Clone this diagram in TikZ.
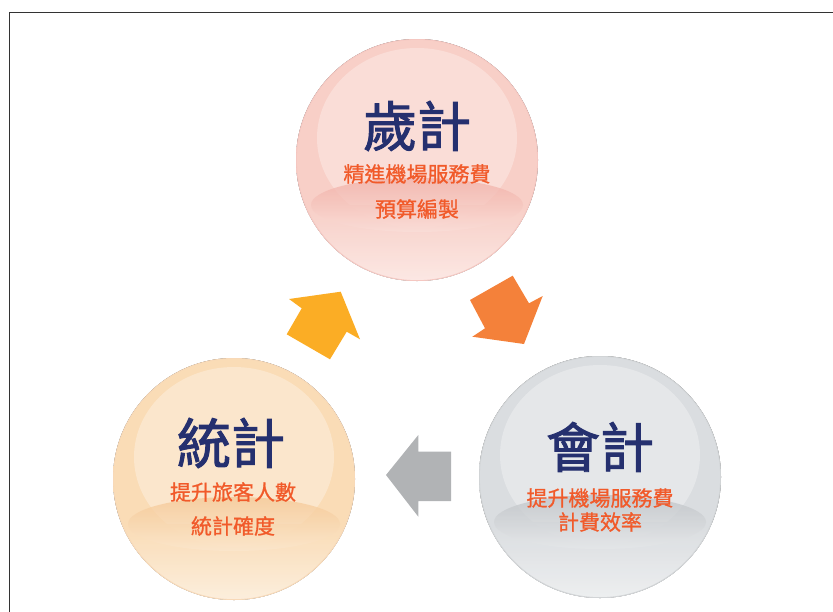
\documentclass[tikz,border=0pt]{standalone}
\usepackage{fontspec}
\newfontfamily\cjk{Noto Sans CJK TC}[FakeBold=0.9]
\newfontfamily\cjkb{Noto Sans CJK TC}[FakeBold=1.8]
\definecolor{navy}{HTML}{25306F}
\definecolor{subred}{HTML}{F15A2A}
\definecolor{pinkL}{HTML}{F8CFC7}
\definecolor{pinkD}{HTML}{EEA298}
\definecolor{pinkW}{HTML}{FDEEEB}
\definecolor{oraL}{HTML}{FADCB6}
\definecolor{oraD}{HTML}{F3C088}
\definecolor{oraW}{HTML}{FDF3E6}
\definecolor{grayL}{HTML}{DADDE0}
\definecolor{grayD}{HTML}{B3B7BB}
\definecolor{grayW}{HTML}{F2F3F4}
\definecolor{arrYellow}{HTML}{FBAD25}
\definecolor{arrOrange}{HTML}{F4813A}
\definecolor{arrGray}{HTML}{B1B3B5}
\colorlet{ballin}{pinkL}
\colorlet{ballout}{pinkD}
\pgfdeclareradialshading[ballin,ballout]{ballshade}{\pgfpoint{0bp}{0bp}}{color(0bp)=(ballin); color(32bp)=(ballin); color(46bp)=(ballin!55!ballout); color(50bp)=(ballout); color(60bp)=(ballout)}
\tikzset{
  titletext/.style={font=\cjkb\fontsize{54}{54}\selectfont, text=navy, inner sep=0pt},
  subtext/.style={font=\cjk\fontsize{21}{21}\selectfont, text=subred, inner sep=0pt},
  frameline/.style={draw=black!80, line width=1.3pt},
}
% #1 name, #2 cx, #3 cy, #4 light, #5 dark, #6 white
\newcommand\glassball[6]{%
  \colorlet{ballin}{#4}\colorlet{ballout}{#5}%
  \coordinate (#1) at (#2,#3);
  \fill[shading=ballshade] (#1) circle (121);
  \begin{scope}
    \clip (#1) circle (121);
    \fill[white, opacity=0.3] ([yshift=22]#1) ellipse (100 and 90);
    \shade[top color=#4, bottom color=#6, opacity=0.85] ([xshift=-130,yshift=-45]#1) rectangle ([xshift=130,yshift=-125]#1);
    \shade[top color=#5!75!#4, bottom color=#4!50!#6, opacity=0.75] ([yshift=-45]#1) ellipse (106 and 27);
  \end{scope}
  \draw[#5!60!white, line width=0.8pt] (#1) circle (120.6);
}
\begin{document}
\begin{tikzpicture}[x=1pt,y=-1pt]
\useasboundingbox (0,0) rectangle (833,611);
\begin{scope}
\clip (0,0) rectangle (833,611);
\draw[frameline] (9.5,12.5) rectangle (860,640);
\end{scope}
% spheres
\glassball{top}{417}{160}{pinkL}{pinkD}{pinkW}
\glassball{left}{234}{479}{oraL}{oraD}{oraW}
\glassball{right}{600}{477}{grayL}{grayD}{grayW}
% texts
\node[titletext] (t1) at (417,126) {歲計};
\node[subtext] (t1a) at (417,174) {精進機場服務費};
\node[subtext] (t1b) at (417,209) {預算編製};
\node[titletext] (t2) at (231,443) {統計};
\node[subtext] (t2a) at (233,492) {提升旅客人數};
\node[subtext] (t2b) at (233,526) {統計確度};
\node[titletext] (t3) at (600,447) {會計};
\node[subtext] (t3a) at (600,498) {提升機場服務費};
\node[subtext] (t3b) at (600,522) {計費效率};
% arrows
\fill[arrOrange] (470,300) -- (512.7,275.7) -- (529,303.3) -- (542.7,296) -- (524,344) -- (472.3,336.7) -- (485,328.3) -- cycle;
\fill[arrGray] (386,475) -- (418.3,435) -- (418.3,451.7) -- (451,451.7) -- (451,501) -- (418.3,501) -- (418.3,516.7) -- cycle;
\fill[arrYellow] (289,299) -- (340.7,291.7) -- (360,339.3) -- (346.7,331.7) -- (330,359.3) -- (286.7,334.3) -- (301.7,308.3) -- cycle;
\end{tikzpicture}
\end{document}
